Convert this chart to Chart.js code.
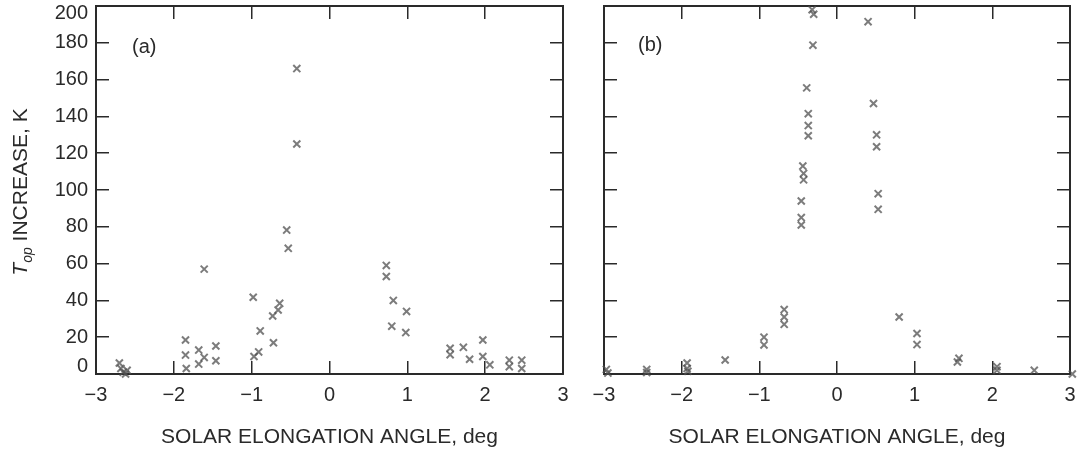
<!DOCTYPE html>
<html>
<head>
<meta charset="utf-8">
<script src="https://cdn.jsdelivr.net/npm/chart.js@4"></script>
<style>
  body { margin: 0; background: #fff; }
  #wrap { position: relative; width: 1081px; height: 453px; }
  canvas { position: absolute; top: 0; }
  #chartA { left: 0; }
  #chartB { left: 575px; }
</style>
</head>
<body>
<div id="wrap">
  <canvas id="chartA" width="575" height="453"></canvas>
  <canvas id="chartB" width="506" height="453"></canvas>
</div>
<script>
// panel (a): elongation angle (deg) and Top increase (K)
const aAngle = [-2.70, -2.68, -2.65, -2.62, -2.60,
  -1.85, -1.85, -1.84, -1.68, -1.68, -1.61, -1.46, -1.46, -1.61,
  -0.98, -0.97, -0.91, -0.89, -0.72, -0.73, -0.66, -0.64,
  -0.55, -0.53, -0.42, -0.42,
  0.73, 0.73, 0.82, 0.99, 0.80, 0.98,
  1.55, 1.55, 1.72, 1.80, 1.97, 1.97, 2.06, 2.31, 2.31, 2.47, 2.47];
const aIncrease = [6, 3, 1, 0, 2,
  18.5, 10.3, 3, 13, 5.4, 9, 15.2, 7.2, 57,
  41.7, 9.5, 12, 23.4, 17, 31.5, 34.8, 38.4,
  78.2, 68.3, 166, 125,
  59, 53, 40, 34, 26, 22.5,
  14, 10.5, 14.5, 8, 18.5, 9.5, 5, 7.5, 4, 7.5, 3];

// panel (b)
const bAngle = [-2.97, -2.95, -2.45, -2.45, -1.93, -1.93, -1.92, -1.44,
  -0.94, -0.94, -0.68, -0.68, -0.68,
  -0.46, -0.46, -0.46, -0.44, -0.43, -0.43, -0.37, -0.37, -0.37,
  -0.39, -0.31, -0.32, -0.30,
  0.40, 0.47, 0.51, 0.51, 0.53, 0.53,
  0.80, 1.03, 1.03, 1.57, 1.55, 2.06, 2.06, 2.54, 3.03];
const bIncrease = [2.5, 0.5, 2.5, 0.8, 6, 3, 1.5, 7.6,
  20, 15.8, 35, 31, 27,
  94, 85, 81, 113, 109, 105.5, 141.5, 135, 129.5,
  155.5, 178.7, 198, 195.5,
  191.5, 147, 130, 123.5, 98, 89.5,
  31, 22, 16, 8.5, 6.5, 4, 2, 2, 0];

const xTicks = [-3, -2, -1, 0, 1, 2, 3];
const yTicks = [0, 20, 40, 60, 80, 100, 120, 140, 160, 180, 200];

const FONT = '"Liberation Sans", Arial, Helvetica, sans-serif';
const INK = '#2a2a2a';
const MARK = 'rgba(80,80,80,0.75)';

function minusLabel(v) {
  return v < 0 ? '\u2212' + Math.abs(v) : String(v);
}

// end labels of the y axis are nudged inside the frame
function yLabel(v) {
  if (v === yTicks[yTicks.length - 1]) return ['', String(v)];
  if (v === yTicks[0]) return [String(v), ''];
  return String(v);
}

// pin a scale's box size and drop the label overhang padding
function pinSize(w, h) {
  return s => {
    if (w !== null) s.width = w;
    if (h !== null) s.height = h;
    s.paddingTop = 0; s.paddingBottom = 0;
    s.paddingLeft = 0; s.paddingRight = 0;
  };
}

const frameGrid = { drawOnChartArea: false, tickLength: -13, color: INK, lineWidth: 1.5 };
const frameBorder = { color: INK, width: 2 };

function buildScales(yWidth, showY) {
  return {
    x: {
      type: 'linear', position: 'bottom',
      min: xTicks[0], max: xTicks[xTicks.length - 1],
      ticks: { stepSize: 1, padding: 22, color: INK, font: { family: FONT, size: 20 }, callback: minusLabel },
      grid: frameGrid, border: frameBorder,
      title: {
        display: true, text: 'SOLAR ELONGATION ANGLE, deg', color: INK,
        font: { family: FONT, size: 21 }, padding: { top: 0, bottom: 3 }
      },
      afterFit: pinSize(null, 79)
    },
    x2: {
      type: 'linear', position: 'top', axis: 'x',
      min: xTicks[0], max: xTicks[xTicks.length - 1],
      ticks: { display: false, stepSize: 1 },
      grid: frameGrid, border: frameBorder,
      afterFit: pinSize(null, 0)
    },
    y: {
      type: 'linear', position: 'left',
      min: yTicks[0], max: yTicks[yTicks.length - 1],
      ticks: {
        display: showY, stepSize: 20, padding: 21, color: INK,
        font: { family: FONT, size: 20, lineHeight: 0.75 }, callback: yLabel
      },
      grid: frameGrid, border: frameBorder,
      afterFit: pinSize(yWidth, null)
    },
    y2: {
      type: 'linear', position: 'right', axis: 'y',
      min: yTicks[0], max: yTicks[yTicks.length - 1],
      ticks: { display: false, stepSize: 20 },
      grid: frameGrid, border: frameBorder,
      afterFit: pinSize(0, null)
    }
  };
}

const panelLabel = {
  id: 'panelLabel',
  afterDraw(chart, args, opts) {
    const ctx = chart.ctx;
    ctx.save();
    ctx.font = '20px ' + FONT;
    ctx.fillStyle = INK;
    ctx.textBaseline = 'middle';
    ctx.fillText(opts.text, chart.chartArea.left + opts.dx, opts.y);
    ctx.restore();
  }
};

// rotated y title with italic subscript
const yTitle = {
  id: 'yTitle',
  afterDraw(chart, args, opts) {
    if (!opts.show) return;
    const ctx = chart.ctx;
    const big = 'italic 21px ' + FONT;
    const sub = 'italic 14px ' + FONT;
    const rest = '21px ' + FONT;
    ctx.save();
    ctx.font = big; const w1 = ctx.measureText('T').width;
    ctx.font = sub; const w2 = ctx.measureText('op').width;
    ctx.font = rest; const w3 = ctx.measureText(' INCREASE, K').width;
    ctx.translate(27, 192);
    ctx.rotate(-Math.PI / 2);
    ctx.fillStyle = INK;
    ctx.textBaseline = 'alphabetic';
    let x = -(w1 + w2 + w3) / 2;
    ctx.font = big; ctx.fillText('T', x, 0); x += w1;
    ctx.font = sub; ctx.fillText('op', x, 5); x += w2;
    ctx.font = rest; ctx.fillText(' INCREASE, K', x, 0);
    ctx.restore();
  }
};

function makeChart(id, xs, ys, yWidth, padRight, showY, label, labelDx, labelY) {
  return new Chart(document.getElementById(id), {
    type: 'scatter',
    data: {
      datasets: [{
        data: xs.map((x, i) => ({ x: x, y: ys[i] })),
        pointStyle: 'crossRot',
        radius: 5,
        borderWidth: 2,
        borderColor: MARK,
        backgroundColor: MARK,
        clip: false
      }]
    },
    options: {
      responsive: false,
      animation: false,
      events: [],
      devicePixelRatio: 1,
      layout: { autoPadding: false, padding: { left: 0, right: padRight, top: 6, bottom: 0 } },
      scales: buildScales(yWidth, showY),
      plugins: {
        legend: { display: false },
        tooltip: { enabled: false },
        panelLabel: { text: label, dx: labelDx, y: labelY },
        yTitle: { show: showY }
      }
    },
    plugins: [panelLabel, yTitle]
  });
}

makeChart('chartA', aAngle, aIncrease, 96, 12, true, '(a)', 36, 47);
makeChart('chartB', bAngle, bIncrease, 29, 11, false, '(b)', 34, 45);
</script>
</body>
</html>
